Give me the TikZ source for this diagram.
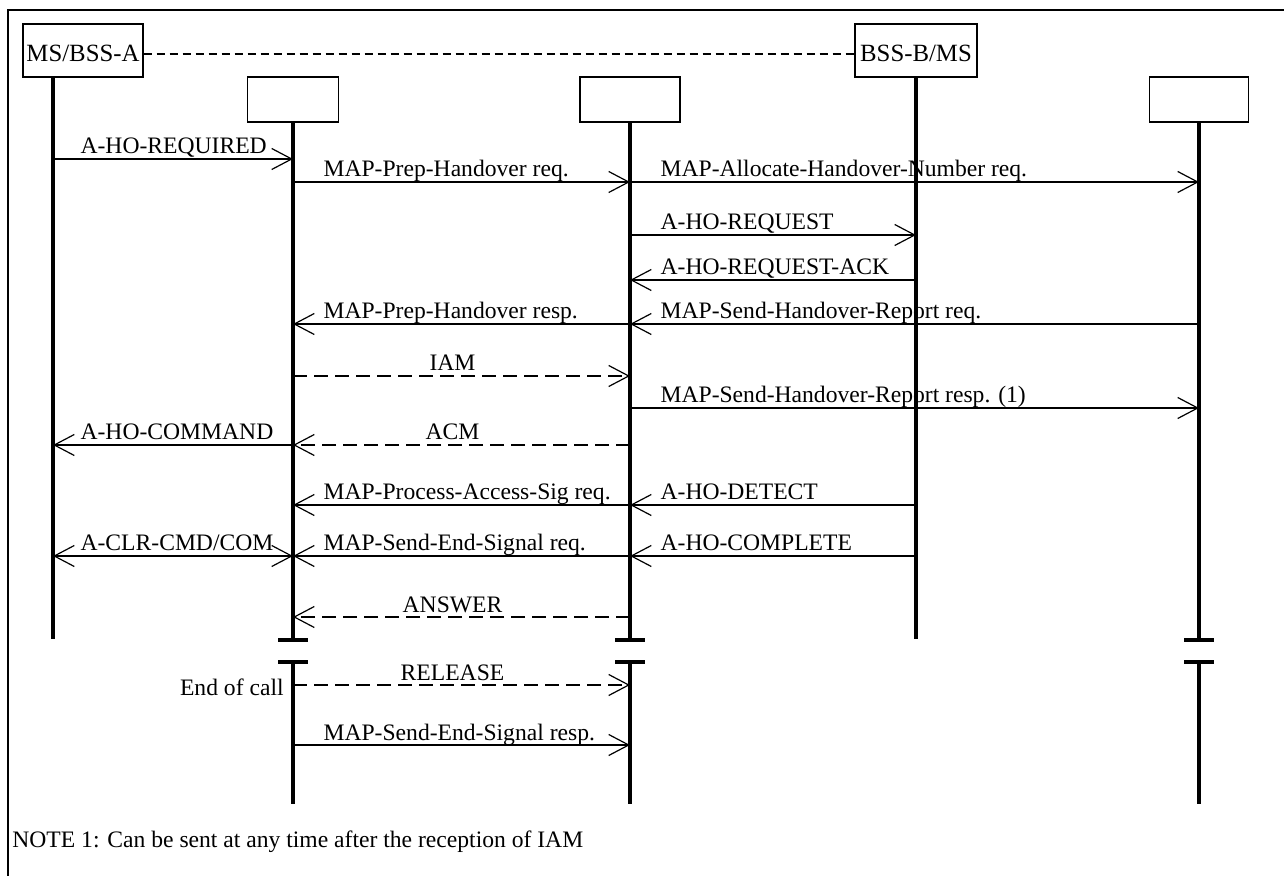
\documentclass[tikz,border=0pt]{standalone}
\usepackage{fontspec}
\setmainfont{Liberation Serif}
\usetikzlibrary{arrows.meta}
\tikzset{
  frame/.style={line width=0.7pt},
  entity/.style={draw, line width=0.7pt, minimum height=22.5pt, inner sep=0pt},
  named/.style={entity, minimum height=26.5pt, text height=11pt, text depth=0pt, font=\fontsize{12.4}{14}\selectfont},
  life/.style={line width=1.6pt},
  bar/.style={line width=2pt},
  msg/.style={line width=0.6pt, ->},
  sig/.style={msg, dash pattern=on 7pt off 3.5pt},
  lblR/.style={pos=0, anchor=base west, xshift=15pt, yshift=2.5pt, inner sep=0pt},
  lblL/.style={pos=1, anchor=base west, xshift=15pt, yshift=2.5pt, inner sep=0pt},
  lblM/.style={midway, anchor=base, xshift=-4.5pt, yshift=2.5pt, inner sep=0pt},
  >={Straight Barb[length=10pt,width=10.5pt]}
}
\begin{document}
\begin{tikzpicture}[x=0.5pt,y=-0.5pt,font=\fontsize{11.8}{14}\selectfont]
  \useasboundingbox (0,0) rectangle (1284,876);
  \draw[frame] (1284,10) -- (8,10) -- (8,876);

  % entities
  \node[named, minimum width=60pt] (ms) at (83,50.5) {MS/BSS-A};
  \node[entity, minimum width=45.5pt] (mscA) at (293,99.5) {};
  \node[entity, minimum width=50pt] (mscB) at (630,99.5) {};
  \node[named, minimum width=61pt] (bss) at (916,50.5) {BSS-B/MS};
  \node[entity, minimum width=49.5pt] (vlr) at (1199,99.5) {};
  \draw[line width=0.6pt, dash pattern=on 4pt off 2.5pt] (ms.east |- 0,54) -- (bss.west |- 0,54);

  \coordinate (l1) at (53,77);
  \coordinate (brk) at (0,640);
  \coordinate (rst) at (0,662);
  \coordinate (fin) at (0,804);

  % lifelines
  \draw[life] (l1) -- (l1 |- 0,639);
  \draw[life] (bss.south) -- (bss |- 0,639);
  \foreach \e in {mscA,mscB,vlr} {
    \draw[life] (\e.south) -- (\e |- brk);
    \draw[life] (\e |- rst) -- (\e |- fin);
    \draw[bar] ([xshift=-7.5pt]\e |- brk) -- ([xshift=7.5pt]\e |- brk);
    \draw[bar] ([xshift=-7.5pt]\e |- rst) -- ([xshift=7.5pt]\e |- rst);
  }

  % messages
  \draw[msg] (l1 |- 0,159) -- node[lblR, xshift=-1.5pt] {A-HO-REQUIRED} (mscA |- 0,159);
  \draw[msg] (mscA |- 0,182) -- node[lblR] {MAP-Prep-Handover req.} (mscB |- 0,182);
  \draw[msg] (mscB |- 0,182) -- node[lblR] {MAP-Allocate-Handover-Number req.} (vlr |- 0,182);
  \draw[msg] (mscB |- 0,235) -- node[lblR] {A-HO-REQUEST} (bss |- 0,235);
  \draw[msg] (bss |- 0,280) -- node[lblL] {A-HO-REQUEST-ACK} (mscB |- 0,280);
  \draw[msg] (mscB |- 0,324) -- node[lblL] {MAP-Prep-Handover resp.} (mscA |- 0,324);
  \draw[msg] (vlr |- 0,324) -- node[lblL] {MAP-Send-Handover-Report req.} (mscB |- 0,324);
  \draw[sig] (mscA |- 0,376) -- node[lblM] {IAM} (mscB |- 0,376);
  \draw[msg] (mscB |- 0,408) -- node[lblR] {MAP-Send-Handover-Report resp. (1)} (vlr |- 0,408);
  \draw[msg] (mscA |- 0,445) -- node[lblL, xshift=-1.5pt] {A-HO-COMMAND} (l1 |- 0,445);
  \draw[sig] (mscB |- 0,445) -- node[lblM] {ACM} (mscA |- 0,445);
  \draw[msg] (mscB |- 0,505) -- node[lblL] {MAP-Process-Access-Sig req.} (mscA |- 0,505);
  \draw[msg] (bss |- 0,505) -- node[lblL] {A-HO-DETECT} (mscB |- 0,505);
  \draw[msg, <->] (l1 |- 0,556) -- node[lblR, xshift=-1.5pt] {A-CLR-CMD/COM} (mscA |- 0,556);
  \draw[msg] (mscB |- 0,556) -- node[lblL] {MAP-Send-End-Signal req.} (mscA |- 0,556);
  \draw[msg] (bss |- 0,556) -- node[lblL] {A-HO-COMPLETE} (mscB |- 0,556);
  \draw[sig] (mscB |- 0,617) -- node[lblM] {ANSWER} (mscA |- 0,617);
  \draw[sig] (mscA |- 0,685) -- node[lblM] {RELEASE} (mscB |- 0,685);
  \node[anchor=base east, inner sep=0pt] (eoc) at (284,695) {End of call};
  \draw[msg] (mscA |- 0,745) -- node[lblR] {MAP-Send-End-Signal resp.} (mscB |- 0,745);

  \node[anchor=base west, inner sep=0pt] (note) at (12,847) {NOTE 1: Can be sent at any time after the reception of IAM};
\end{tikzpicture}
\end{document}
